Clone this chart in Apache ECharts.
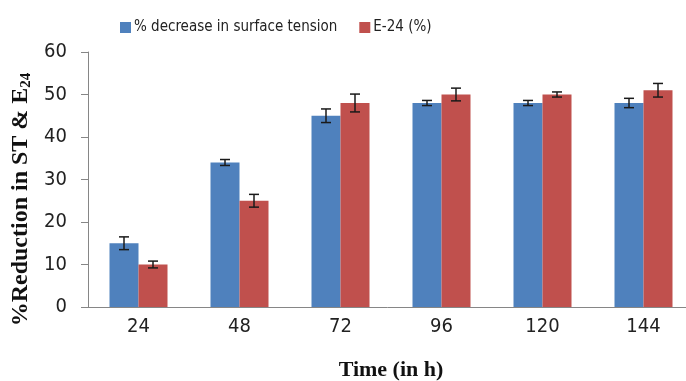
<!DOCTYPE html>
<html>
<head>
<meta charset="utf-8">
<script src="https://cdn.jsdelivr.net/npm/echarts@6/dist/echarts.min.js"></script>
<style>
  html, body { margin: 0; padding: 0; background: #fff; }
  #chart { width: 686px; height: 381px; }
</style>
</head>
<body>
<div id="chart"></div>
<script>
const categories = ["24", "48", "72", "96", "120", "144"];
const stDecrease = [15, 34, 45, 48, 48, 48];
const stError = [1.5, 0.7, 1.6, 0.6, 0.6, 1.1];
const e24 = [10, 25, 48, 50, 50, 51];
const e24Error = [0.8, 1.5, 2.1, 1.5, 0.6, 1.6];

const barWidth = 29;
const labelFont = "'Liberation Sans Narrow', 'DejaVu Sans Condensed', 'Open Sans', sans-serif";
const titleFont = "'Liberation Serif', 'DejaVu Serif', serif";

// error bars drawn on top of the bars, shifted to the left/right bar
function errorSeries(values, errors, shift) {
  return {
    type: "custom",
    silent: true,
    z: 10,
    data: values.map((v, i) => [i, v - errors[i], v + errors[i]]),
    renderItem: function (params, api) {
      const lo = api.coord([api.value(0), api.value(1)]);
      const hi = api.coord([api.value(0), api.value(2)]);
      const x = lo[0] + shift;
      const cap = 5;
      const style = { stroke: "#1a1a1a", lineWidth: 1.5 };
      return {
        type: "group",
        children: [
          { type: "line", shape: { x1: x, y1: lo[1], x2: x, y2: hi[1] }, style },
          { type: "line", shape: { x1: x - cap, y1: lo[1], x2: x + cap, y2: lo[1] }, style },
          { type: "line", shape: { x1: x - cap, y1: hi[1], x2: x + cap, y2: hi[1] }, style },
        ],
      };
    },
  };
}

const chart = echarts.init(document.getElementById("chart"));
chart.setOption({
  animation: false,
  legend: {
    top: 15,
    left: 115,
    itemWidth: 11,
    itemHeight: 11,
    itemGap: 22,
    icon: "rect",
    textStyle: { fontFamily: labelFont, fontSize: 15, color: "#222", padding: [0, 0, 0, -2] },
    data: ["% decrease in surface tension", "E-24 (%)"],
  },
  grid: { left: 88, right: -8, top: 52, bottom: 74, outerBoundsMode: "none" },
  xAxis: {
    type: "category",
    data: categories,
    name: "Time (in h)",
    nameLocation: "middle",
    nameGap: 52,
    nameTextStyle: { fontFamily: titleFont, fontSize: 22, fontWeight: "bold", color: "#111" },
    axisLine: { lineStyle: { color: "#868686" } },
    axisTick: { length: 6, lineStyle: { color: "#868686" } },
    axisLabel: { fontFamily: labelFont, fontSize: 20, color: "#222", margin: 10 },
  },
  yAxis: {
    type: "value",
    min: 0,
    max: 60,
    interval: 10,
    name: "{m|%Reduction in ST & E}{s|24}",
    nameLocation: "middle",
    nameGap: 50,
    nameRotate: 90,
    nameTextStyle: {
      padding: [0, 40, 0, 0],
      rich: {
        m: { fontFamily: titleFont, fontSize: 24, fontWeight: "bold", color: "#111" },
        s: { fontFamily: titleFont, fontSize: 15, fontWeight: "bold", color: "#111", padding: [10, 0, 0, 0] },
      },
    },
    axisLine: { show: true, lineStyle: { color: "#868686" } },
    axisTick: { show: true, length: 7, lineStyle: { color: "#868686" } },
    axisLabel: { fontFamily: labelFont, fontSize: 20, color: "#222", margin: 21 },
    splitLine: { show: false },
  },
  series: [
    {
      name: "% decrease in surface tension",
      type: "bar",
      data: stDecrease,
      barWidth: barWidth,
      barGap: 0,
      itemStyle: { color: "#4F81BD" },
    },
    {
      name: "E-24 (%)",
      type: "bar",
      data: e24,
      barWidth: barWidth,
      barGap: 0,
      itemStyle: { color: "#C0504D" },
    },
    errorSeries(stDecrease, stError, -barWidth / 2),
    errorSeries(e24, e24Error, barWidth / 2),
  ],
});
</script>
</body>
</html>
